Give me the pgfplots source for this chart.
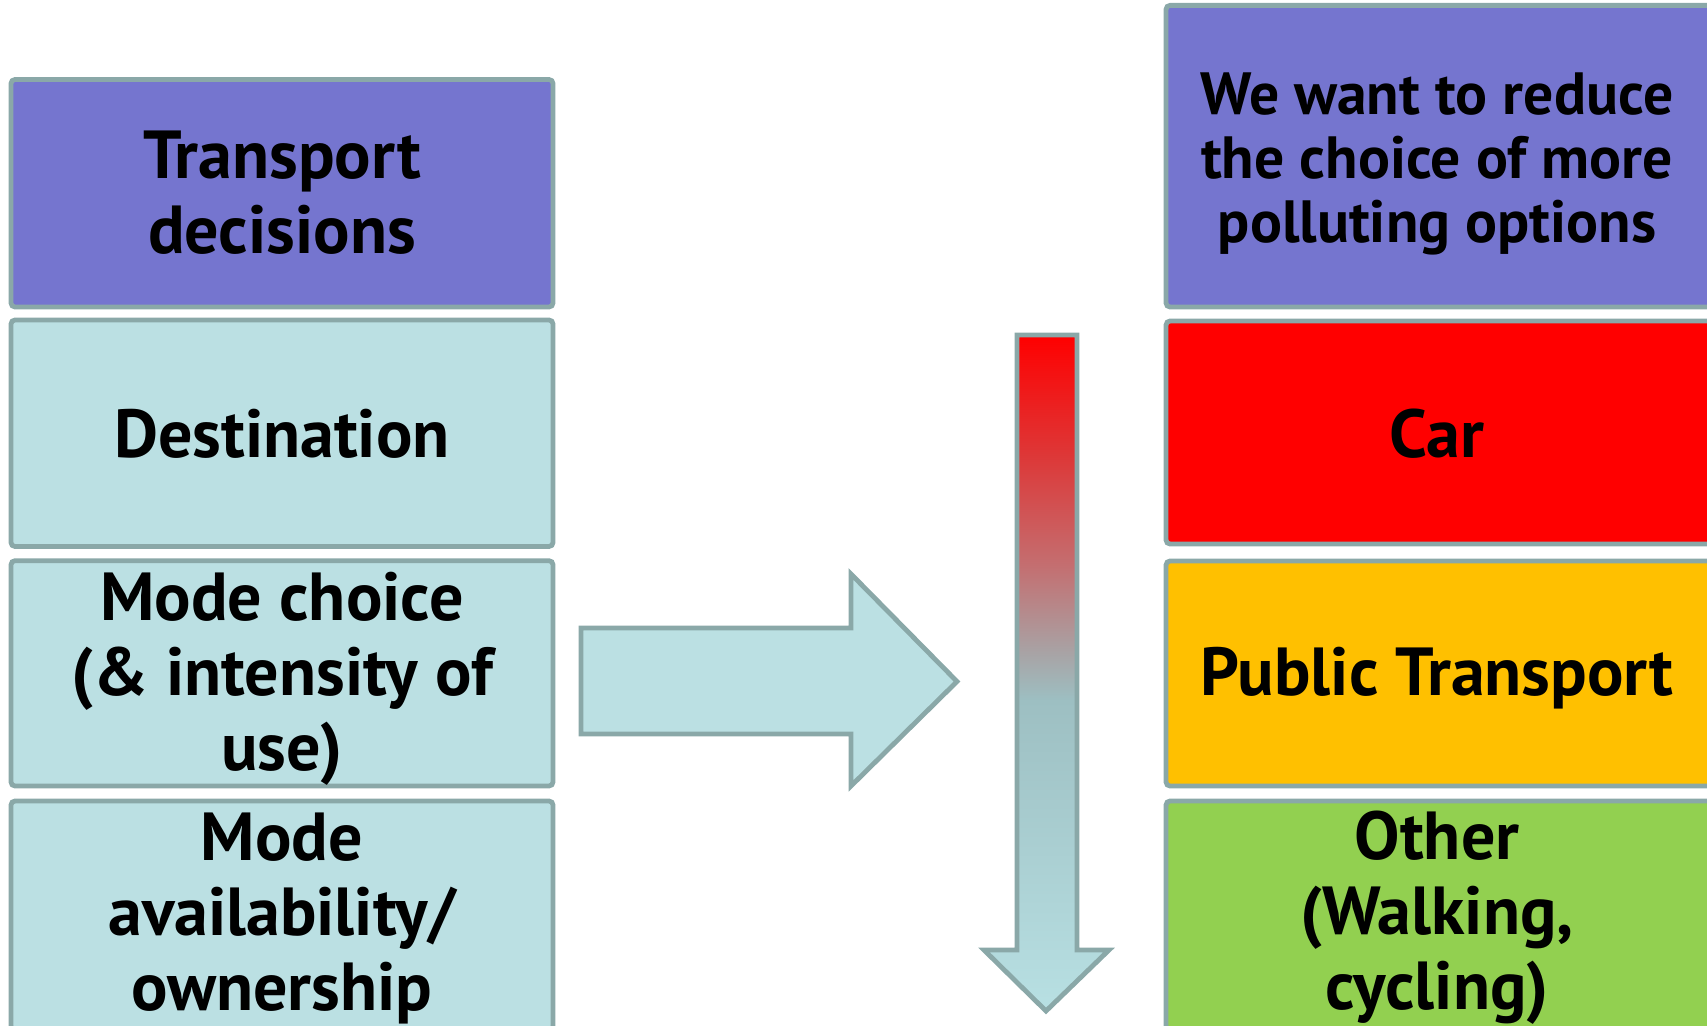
\documentclass[border=0pt]{standalone}
\usepackage{pgfplots}
\pgfplotsset{compat=1.18}
\usepackage{fontspec}
\setmainfont{PT Sans}
\definecolor{purp}{HTML}{7575CF}
\definecolor{lcyan}{HTML}{BBE0E3}
\definecolor{bord}{HTML}{8AA8A8}
\definecolor{amber}{HTML}{FFC000}
\definecolor{lgreen}{HTML}{92D050}
\definecolor{gA}{HTML}{B8E0E3}
\definecolor{gB}{HTML}{9DBFC2}
\definecolor{gC}{HTML}{A8A3A5}
\definecolor{gD}{HTML}{C46E70}
\definecolor{gE}{HTML}{DD3838}
\pgfdeclareverticalshading{arrowshade}{100bp}{color(0bp)=(gA); color(25bp)=(gA); color(48bp)=(gB); color(51.5bp)=(gC); color(58bp)=(gD); color(66bp)=(gE); color(75bp)=(red); color(100bp)=(red)}
\tikzset{lbl/.style={font=\fontsize{17}{18.75}\selectfont\bfseries, align=center, text=black, inner sep=0pt},
  lbls/.style={font=\fontsize{14.9}{16}\selectfont\bfseries, align=center, text=black, inner sep=0pt}}
\begin{document}
\begin{tikzpicture}
\begin{axis}[
  scale only axis, width=426.75pt, height=256.25pt,
  xmin=0, xmax=1707, ymin=0, ymax=1025, y dir=reverse,
  axis lines=none, clip=true,
]
% left column
\addplot[fill=purp, draw=bord, line width=1.2pt, rounded corners=1pt] coordinates {(11,79.5) (553,79.5) (553,307) (11,307)} -- cycle;
\addplot[fill=lcyan, draw=bord, line width=1.2pt, rounded corners=1pt] coordinates {(11,320) (553,320) (553,546.5) (11,546.5)} -- cycle;
\addplot[fill=lcyan, draw=bord, line width=1.2pt, rounded corners=1pt] coordinates {(11,560.7) (553,560.7) (553,786) (11,786)} -- cycle;
\addplot[fill=lcyan, draw=bord, line width=1.2pt, rounded corners=1pt] coordinates {(11,801) (553,801) (553,1030) (11,1030)} -- cycle;
% right column
\addplot[fill=purp, draw=bord, line width=1.2pt, rounded corners=1pt] coordinates {(1166,5.4) (1712,5.4) (1712,307) (1166,307)} -- cycle;
\addplot[fill=red, draw=bord, line width=1.2pt, rounded corners=1pt] coordinates {(1166,321) (1712,321) (1712,544) (1166,544)} -- cycle;
\addplot[fill=amber, draw=bord, line width=1.2pt, rounded corners=1pt] coordinates {(1166,561) (1712,561) (1712,786) (1166,786)} -- cycle;
\addplot[fill=lgreen, draw=bord, line width=1.2pt, rounded corners=1pt] coordinates {(1166,801) (1712,801) (1712,1030) (1166,1030)} -- cycle;
% right arrow
\addplot[fill=lcyan, draw=bord, line width=1.2pt] coordinates {(581,628) (851,628) (851,574) (957,681.5) (851,786) (851,734) (581,734)} -- cycle;
% down arrow
\shade[shading=arrowshade, draw=bord, line width=1.2pt] (axis cs:1017,335) -- (axis cs:1077,335) -- (axis cs:1077,950) -- (axis cs:1109,950) -- (axis cs:1046,1011) -- (axis cs:984,950) -- (axis cs:1017,950) -- cycle;
% texts
\node[lbl] at (axis cs:282,193) {Transport\\decisions};
\node[lbl] at (axis cs:282,434) {Destination};
\node[lbl] at (axis cs:282,679) {Mode choice\\(\& intensity of\\use)};
\node[lbl] at (axis cs:282,918) {Mode\\availability/\\ownership};
\node[lbls] at (axis cs:1437,164) {We want to reduce\\the choice of more\\polluting options};
\node[lbl] at (axis cs:1437,434) {Car};
\node[lbl] at (axis cs:1437,678) {Public Transport};
\node[lbl] at (axis cs:1437,918) {Other\\(Walking,\\cycling)};
\end{axis}
\pgfresetboundingbox
\path (current axis.south west) rectangle (current axis.north east);
\end{tikzpicture}
\end{document}
